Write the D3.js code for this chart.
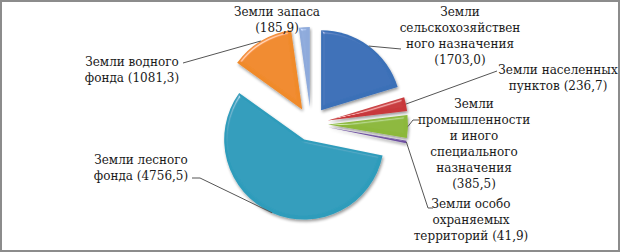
<!DOCTYPE html>
<html>
<head>
<meta charset="utf-8">
<script src="https://cdn.jsdelivr.net/npm/d3@7"></script>
<style>
  html, body { margin: 0; padding: 0; background: #fff; }
  svg { display: block; }
  text { font-family: "DejaVu Serif", serif; font-size: 12px; fill: #1a1a1a; }
</style>
</head>
<body>
<script>
// land categories (clockwise from 12 o'clock)
const categories = [
  ["Земли", "сельскохозяйствен", "ного назначения"],
  ["Земли населенных", "пунктов"],
  ["Земли", "промышленности", "и иного", "специального", "назначения"],
  ["Земли особо", "охраняемых", "территорий"],
  ["Земли лесного", "фонда"],
  ["Земли водного", "фонда"],
  ["Земли запаса"]
]
const values = [1703.0, 236.7, 385.5, 41.9, 4756.5, 1081.3, 185.9]
const valueLabels = ["(1703,0)", "(236,7)", "(385,5)", "(41,9)", "(4756,5)", "(1081,3)", "(185,9)"]
const colors = ["#3a6fb7", "#c8393a", "#8cb83b", "#6e4fa0", "#2f9cbb", "#f08a2a", "#8eaadb"]

const w = 620
const h = 252
const cx = 311
const cy = 124
const radius = 80
const explode = 17

// label layout: center x, first baseline y, value inline or on own line, leader bend/end points
const labelLayout = [
  { x: 460, y: 16, inline: false, leader: [[401, 49]] },
  { x: 558, y: 74, inline: true, leader: [[497, 71]] },
  { x: 474, y: 108, inline: false, leader: [[413, 120], [419, 120]] },
  { x: 471, y: 208, inline: true, leader: [[428, 208], [433, 208]] },
  { x: 141, y: 164, inline: true, leader: [[200, 178], [192, 178]] },
  { x: 132, y: 66, inline: true, leader: [[183, 63]] },
  { x: 277, y: 16, inline: false, leader: [] }
]

const svg = d3.select("body")
  .append("svg")
  .attr("width", w)
  .attr("height", h)

// chart frame
svg.append("rect")
  .attr("x", 1)
  .attr("y", 1)
  .attr("width", w - 2)
  .attr("height", h - 2)
  .attr("fill", "#fff")
  .attr("stroke", "#8c8c8c")
  .attr("stroke-width", 2)

// bevel + drop shadow
const defs = svg.append("defs")
const bevel = defs.append("filter")
  .attr("id", "bevel")
  .attr("x", "-20%").attr("y", "-20%")
  .attr("width", "140%").attr("height", "140%")
bevel.append("feGaussianBlur")
  .attr("in", "SourceAlpha")
  .attr("stdDeviation", 1.5)
  .attr("result", "blur")
bevel.append("feSpecularLighting")
  .attr("in", "blur")
  .attr("surfaceScale", 3)
  .attr("specularConstant", 0.45)
  .attr("specularExponent", 30)
  .attr("lighting-color", "#fff")
  .attr("result", "spec")
  .append("feDistantLight")
  .attr("azimuth", 235)
  .attr("elevation", 30)
bevel.append("feComposite")
  .attr("in", "spec")
  .attr("in2", "SourceAlpha")
  .attr("operator", "in")
  .attr("result", "specIn")
bevel.append("feComposite")
  .attr("in", "SourceGraphic")
  .attr("in2", "specIn")
  .attr("operator", "arithmetic")
  .attr("k1", 0).attr("k2", 1).attr("k3", 1).attr("k4", 0)
  .attr("result", "lit")
bevel.append("feOffset")
  .attr("in", "SourceAlpha")
  .attr("dx", 1).attr("dy", 2)
  .attr("result", "off")
bevel.append("feGaussianBlur")
  .attr("in", "off")
  .attr("stdDeviation", 1.5)
  .attr("result", "offBlur")
bevel.append("feComponentTransfer")
  .attr("in", "offBlur")
  .attr("result", "shadow")
  .append("feFuncA")
  .attr("type", "linear")
  .attr("slope", 0.4)
const merge = bevel.append("feMerge")
merge.append("feMergeNode").attr("in", "shadow")
merge.append("feMergeNode").attr("in", "lit")

const pie = d3.pie().sort(null).value(d => d)
const arcs = pie(values)
const arc = d3.arc().innerRadius(0).outerRadius(radius)

const offset = d => {
  const mid = (d.startAngle + d.endAngle) / 2
  return [explode * Math.sin(mid), -explode * Math.cos(mid)]
}

const slices = svg.append("g")
  .attr("transform", `translate(${cx},${cy})`)

slices.selectAll("path")
  .data(arcs)
  .enter()
  .append("path")
  .attr("transform", d => `translate(${offset(d)})`)
  .attr("d", arc)
  .attr("fill", (d, i) => colors[i])
  .attr("filter", "url(#bevel)")

// leader lines, starting at each slice's outer mid point
const leaders = svg.append("g")
  .attr("fill", "none")
  .attr("stroke", "#555")
  .attr("stroke-width", 1)

arcs.forEach((d, i) => {
  const lay = labelLayout[i]
  if (lay.leader.length === 0) return
  const mid = (d.startAngle + d.endAngle) / 2
  const [ox, oy] = offset(d)
  const start = [cx + ox + radius * Math.sin(mid), cy + oy - radius * Math.cos(mid)]
  leaders.append("path")
    .attr("d", d3.line()([start].concat(lay.leader)))
})

// labels
const labels = svg.append("g")
labelLayout.forEach((lay, i) => {
  const lines = categories[i].slice()
  if (lay.inline) {
    lines[lines.length - 1] = lines[lines.length - 1] + " " + valueLabels[i]
  } else {
    lines.push(valueLabels[i])
  }
  const t = labels.append("text")
    .attr("text-anchor", "middle")
    .attr("x", lay.x)
    .attr("y", lay.y)
  lines.forEach((ln, k) => {
    t.append("tspan")
      .attr("x", lay.x)
      .attr("dy", k === 0 ? 0 : 16)
      .text(ln)
  })
})
</script>
</body>
</html>
